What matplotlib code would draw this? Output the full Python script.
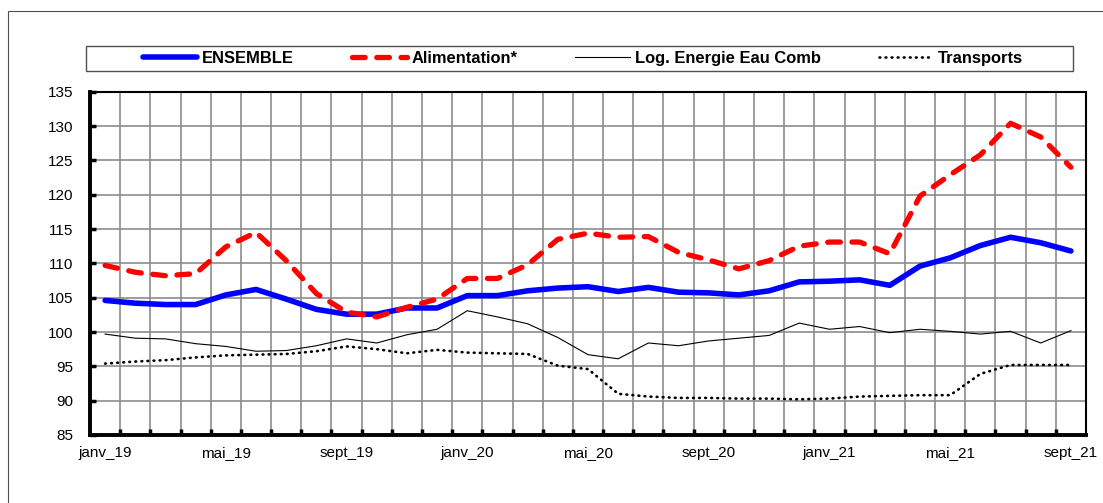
import matplotlib
matplotlib.use("Agg")
import matplotlib.pyplot as plt
from matplotlib.patches import Rectangle
from matplotlib.ticker import FixedLocator

plt.rcParams['font.family'] = ['Liberation Sans', 'DejaVu Sans']

# Monthly indices, janv 2019 -> sept 2021
mois = ['janv', 'févr', 'mars', 'avr', 'mai', 'juin',
        'juil', 'août', 'sept', 'oct', 'nov', 'déc']
periodes = [f"{m}_{a}" for a in ('19', '20', '21') for m in mois][:33]

ensemble = [104.6, 104.2, 104.0, 104.0, 105.4, 106.2, 104.8, 103.3, 102.6, 102.6,
            103.5, 103.5, 105.3, 105.3, 106.0, 106.4, 106.6, 105.9, 106.5,
            105.8, 105.7, 105.4, 106.0, 107.3, 107.4, 107.6, 106.8, 109.6, 110.8,
            112.6, 113.8, 113.0, 111.8]
alimentation = [109.7, 108.7, 108.2, 108.5, 112.4, 114.5, 110.4, 105.6, 102.9, 102.2,
                103.6, 104.8, 107.8, 107.8, 109.8, 113.5, 114.4, 113.8, 113.9,
                111.6, 110.5, 109.2, 110.4, 112.5, 113.1, 113.1, 111.4, 119.8, 122.9,
                125.8, 130.4, 128.4, 124.0]
logement = [99.7, 99.1, 99.0, 98.3, 97.9, 97.2, 97.3, 98.0, 99.0, 98.4,
            99.6, 100.4, 103.1, 102.2, 101.2, 99.2, 96.7, 96.1, 98.4,
            98.0, 98.7, 99.1, 99.5, 101.3, 100.4, 100.8, 99.9, 100.4, 100.1,
            99.7, 100.1, 98.4, 100.2]
transports = [95.4, 95.7, 95.9, 96.3, 96.6, 96.7, 96.8, 97.2, 97.9, 97.5,
              96.9, 97.4, 97.0, 96.9, 96.8, 95.1, 94.6, 91.0, 90.6,
              90.4, 90.4, 90.3, 90.3, 90.2, 90.3, 90.6, 90.7, 90.8, 90.8,
              93.9, 95.2, 95.2, 95.2]

W, H = 1103, 503
fig = plt.figure(figsize=(W / 100, H / 100), dpi=100)

# outer frame (runs off the right and bottom edges)
fig.patches.append(Rectangle((8 / W, -0.1), 1.2, 1.1 - 11 / H,
                             transform=fig.transFigure, fill=False,
                             edgecolor='#505050', lw=0.8))

ax = fig.add_axes([90 / W, 1 - 435 / H, (1086 - 90) / W, (435 - 91.7) / H])

x = list(range(len(periodes)))
l1, = ax.plot(x, ensemble, color='#0000ff', lw=4, solid_joinstyle='round',
              solid_capstyle='round', label='ENSEMBLE')
l2, = ax.plot(x, alimentation, color='#ff0000', lw=3.8, dashes=(2.4, 2.2),
              dash_capstyle='round', dash_joinstyle='round', label='Alimentation*')
l3, = ax.plot(x, logement, color='black', lw=0.8, label='Log. Energie Eau Comb')
l4, = ax.plot(x, transports, color='black', lw=1.9, linestyle=(0, (0.3, 2.0)),
              dash_capstyle='round', label='Transports')

ax.set_xlim(-0.5, len(periodes) - 0.5)
ax.set_ylim(85, 135)
ax.set_yticks(range(85, 136, 5))
ax.set_xticks(x[::4])
ax.set_xticklabels(periodes[::4])
ax.xaxis.set_minor_locator(FixedLocator([i + 0.5 for i in x[:-1]]))

ax.set_axisbelow(True)
ax.grid(which='minor', axis='x', color='#8c8c8c', lw=1.2)
ax.grid(which='major', axis='y', color='#8c8c8c', lw=1.2)
ax.grid(which='major', axis='x', visible=False)

ax.tick_params(axis='x', which='major', length=0, pad=8, labelsize=11)
ax.tick_params(axis='x', which='minor', direction='in', length=4, width=2.5, color='black')
ax.tick_params(axis='y', direction='in', length=4, width=2.5, pad=12, labelsize=11)

for side in ('left', 'bottom'):
    ax.spines[side].set_linewidth(2.8)
for side in ('top', 'right'):
    ax.spines[side].set_linewidth(1.5)

# legend strip above the plot
fig.patches.append(Rectangle((86 / W, 1 - 71 / H), (1073 - 86) / W, 25 / H,
                             transform=fig.transFigure, facecolor='white',
                             edgecolor='#505050', lw=1.0))
fig.legend([l1, l2, l3, l4], [l.get_label() for l in (l1, l2, l3, l4)],
           loc='center', bbox_to_anchor=(583 / W, 1 - 58.5 / H), ncol=4,
           frameon=False, columnspacing=3.5, handlelength=3.3, handletextpad=0.3,
           prop={'weight': 'bold', 'size': 11.9})

fig.savefig('out.png', dpi=100)
